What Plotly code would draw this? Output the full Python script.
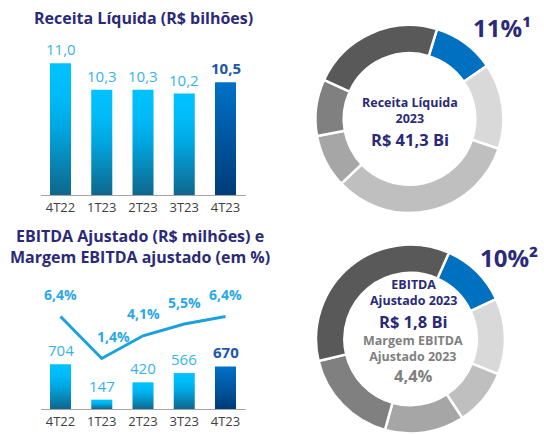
import plotly.graph_objects as go

# ---------------- data ----------------
quarters = ["4T22", "1T23", "2T23", "3T23", "4T23"]
receita = [11.0, 10.3, 10.3, 10.2, 10.5]
receita_labels = ["11,0", "10,3", "10,3", "10,2", "10,5"]
ebitda = [704, 147, 420, 566, 670]
ebitda_labels = ["704", "147", "420", "566", "670"]
margem = [6.4, 1.4, 4.1, 5.5, 6.4]
margem_labels = ["6,4%", "1,4%", "4,1%", "5,5%", "6,4%"]

donut_labels = ["Destaque", "Segmento B", "Segmento C", "Segmento D", "Segmento E", "Segmento F"]
receita_share = [10.7, 14.7, 32.8, 9.2, 9.7, 22.9]
ebitda_share = [11.4, 13.0, 9.7, 13.6, 16.9, 35.4]

# ---------------- style ----------------
W, H = 544, 434
FONT = "Open Sans"
NAVY = "#2b2a78"
LIGHT_BLUE = "#33b5ec"
DARK_BLUE = "#1d58a6"
GRAY_TXT = "#7f7f7f"
donut_colors = ["#0070c0", "#d9d9d9", "#bfbfbf", "#a6a6a6", "#808080", "#595959"]
cyan_scale = [[0, "#0f678c"], [0.5, "#00a6e0"], [0.75, "#00bbf8"], [1, "#00c2ff"]]
blue_scale = [[0, "#003b78"], [1, "#0072c8"]]
HW = 0.255  # half bar width (axis units)
TOP_RANGE = [7.53, 11.61]
BOT_RANGE = [0, 2047]
LINE_RANGE = [-4.6, 10.85]
XR = [-0.473, 4.497]


def px_x(p):
    return p / W


def px_y(p):
    return (H - p) / H


fig = go.Figure()

# ---------- top bars (Receita) ----------
for i, v in enumerate(receita):
    last = i == len(receita) - 1
    fig.add_trace(go.Scatter(
        x=[i - HW, i + HW, i + HW, i - HW], y=[TOP_RANGE[0], TOP_RANGE[0], v, v],
        fill="toself", mode="lines", line=dict(width=0),
        fillgradient=dict(type="vertical", colorscale=blue_scale if last else cyan_scale),
        hoverinfo="skip", showlegend=False, xaxis="x", yaxis="y"))
    fig.add_annotation(x=i, y=v, xref="x", yref="y", text=("<b>%s</b>" % receita_labels[i]) if last else receita_labels[i],
                       showarrow=False, yanchor="middle", yshift=14,
                       font=dict(family=FONT, size=15, color=DARK_BLUE if last else LIGHT_BLUE))

# ---------- bottom bars (EBITDA) ----------
for i, v in enumerate(ebitda):
    last = i == len(ebitda) - 1
    fig.add_trace(go.Scatter(
        x=[i - HW, i + HW, i + HW, i - HW], y=[0, 0, v, v],
        fill="toself", mode="lines", line=dict(width=0),
        fillgradient=dict(type="vertical", colorscale=blue_scale if last else cyan_scale),
        hoverinfo="skip", showlegend=False, xaxis="x2", yaxis="y2"))
    fig.add_annotation(x=i, y=v, xref="x2", yref="y2", text=("<b>%s</b>" % ebitda_labels[i]) if last else ebitda_labels[i],
                       showarrow=False, yanchor="middle", yshift=14,
                       font=dict(family=FONT, size=15, color=DARK_BLUE if last else LIGHT_BLUE))

# ---------- margin line ----------
fig.add_trace(go.Scatter(x=list(range(len(margem))), y=margem, mode="lines",
                         line=dict(color="#1ba1dd", width=3), showlegend=False,
                         xaxis="x2", yaxis="y3"))
for i, m in enumerate(margem):
    fig.add_annotation(x=i, y=m, xref="x2", yref="y3", text="<b>%s</b>" % margem_labels[i],
                       showarrow=False, yanchor="middle", yshift=22, xshift=12 if i == 1 else 0,
                       font=dict(family=FONT, size=14, color="#2aa8e8"))

# ---------- donuts ----------
fig.add_trace(go.Pie(labels=donut_labels, values=receita_share, hole=0.7, sort=False,
                     direction="clockwise", rotation=17, textinfo="none",
                     marker=dict(colors=donut_colors, line=dict(color="white", width=2.5)),
                     domain=dict(x=[px_x(315.5), px_x(503.5)], y=[px_y(213), px_y(25)]),
                     showlegend=False))
fig.add_trace(go.Pie(labels=donut_labels, values=ebitda_share, hole=0.7, sort=False,
                     direction="clockwise", rotation=24, textinfo="none",
                     marker=dict(colors=donut_colors, line=dict(color="white", width=2.5)),
                     domain=dict(x=[px_x(316), px_x(505)], y=[px_y(433.5), px_y(244.5)]),
                     showlegend=False))

# ---------- text ----------
def txt(x, y, s, size, color=NAVY, bold=True):
    fig.add_annotation(x=px_x(x), y=px_y(y), xref="paper", yref="paper",
                       text=("<b>%s</b>" % s) if bold else s, showarrow=False,
                       xanchor="center", yanchor="middle", borderpad=0,
                       font=dict(family=FONT, size=size, color=color))

txt(143.5, 18, "Receita Líquida (R$ bilhões)", 16)
txt(140, 246.5, "EBITDA Ajustado (R$ milhões) e<br>Margem EBITDA ajustado (em %)", 16)

txt(502, 27, "11%¹", 24)
txt(509, 257, "10%²", 24)

txt(410, 110, "Receita Líquida<br>2023", 12.5)
txt(410, 139, "R$ 41,3 Bi", 16.5)

txt(413, 292.5, "EBITDA<br>Ajustado 2023", 12.5)
txt(413, 321, "R$ 1,8 Bi", 16.5)
txt(413, 348, "Margem EBITDA<br>Ajustado 2023", 12.5, GRAY_TXT)
txt(413, 375.5, "4,4%", 16.5, GRAY_TXT)

# ---------- layout ----------
xcommon = dict(range=XR, tickvals=list(range(len(quarters))), ticktext=quarters,
               showgrid=False, zeroline=False, showline=True, linecolor="#a6a6a6", linewidth=1,
               ticks="", fixedrange=True, ticklabelstandoff=0,
               tickfont=dict(family=FONT, size=13, color="#404040"),
               domain=[px_x(41), px_x(246)])
fig.update_layout(
    width=W, height=H, margin=dict(l=0, r=0, t=0, b=0),
    paper_bgcolor="white", plot_bgcolor="white",
    xaxis=dict(xcommon, anchor="y"),
    yaxis=dict(range=TOP_RANGE, domain=[px_y(195), px_y(40)], visible=False, fixedrange=True),
    xaxis2=dict(xcommon, anchor="y2"),
    yaxis2=dict(range=BOT_RANGE, domain=[px_y(409), px_y(279)], visible=False, fixedrange=True),
    yaxis3=dict(range=LINE_RANGE, overlaying="y2", visible=False, fixedrange=True),
    font=dict(family=FONT),
)

fig.write_html("out.html", config={"displayModeBar": False},
               post_script="document.body.style.margin='0px';")
